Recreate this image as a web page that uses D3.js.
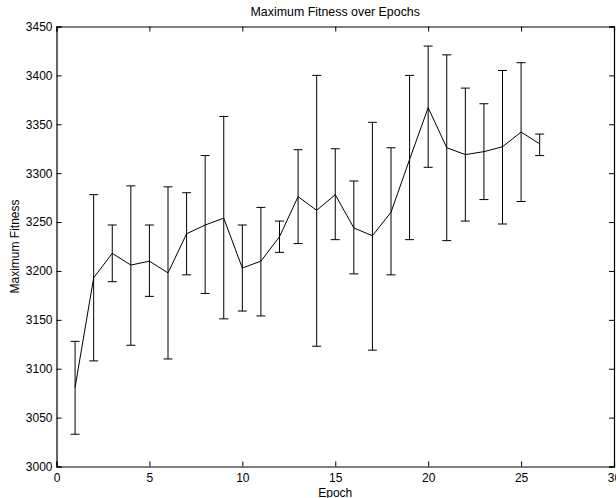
<!DOCTYPE html>
<html>
<head>
<meta charset="utf-8">
<script src="https://cdn.jsdelivr.net/npm/d3@7"></script>
<style>
  html, body { margin: 0; padding: 0; background: #fff; }
  svg { display: block; }
  text { font-family: "Liberation Sans", Arial, Helvetica, sans-serif; fill: #000; }
</style>
</head>
<body>
<script>
// Data
const epochs = [1,2,3,4,5,6,7,8,9,10,11,12,13,14,15,16,17,18,19,20,21,22,23,24,25,26];
const meanFitness = [3081,3193,3218,3206,3210,3198,3238,3247,3254,3203,3210,3235,3276,3262,3278,3244,3236,3260,3314,3367,3326,3319,3322,3327,3342,3330];
const upperFitness = [3128,3278,3247,3287,3247,3286,3280,3318,3358,3247,3265,3251,3324,3400,3325,3292,3352,3326,3400,3430,3421,3387,3371,3405,3413,3340];
const lowerFitness = [3033,3108,3189,3124,3174,3110,3196,3177,3151,3159,3154,3219,3228,3123,3232,3197,3119,3196,3232,3306,3231,3251,3273,3248,3271,3318];
const xTicks = [0,5,10,15,20,25,30];
const yTicks = [3000,3050,3100,3150,3200,3250,3300,3350,3400,3450];

const W = 616, H = 498;
const m = {left: 56.5, right: 2, top: 26.5, bottom: 31.5};
const pw = 614 - m.left, ph = 466.5 - m.top;

const svg = d3.select("body").append("svg").attr("width", W).attr("height", H);

const x = d3.scaleLinear().domain([0, 30]).range([m.left, m.left + pw]);
const y = d3.scaleLinear().domain([3000, 3450]).range([m.top + ph, m.top]);

const fs = 12;
// Axes (ticks inward)
const gB = svg.append("g").attr("transform", `translate(0,${m.top + ph})`)
  .call(d3.axisBottom(x).tickValues(xTicks).tickSize(-5).tickPadding(6.5).tickFormat(d3.format("d")));
const gT = svg.append("g").attr("transform", `translate(0,${m.top})`)
  .call(d3.axisTop(x).tickValues(xTicks).tickSize(-5).tickFormat(""));
const gL = svg.append("g").attr("transform", `translate(${m.left},0)`)
  .call(d3.axisLeft(y).tickValues(yTicks).tickSize(-5).tickPadding(4).tickFormat(d3.format("d")));
const gR = svg.append("g").attr("transform", `translate(${m.left + pw},0)`)
  .call(d3.axisRight(y).tickValues(yTicks).tickSize(-5).tickFormat(""));

[gB, gT, gL, gR].forEach(g => {
  g.select(".domain").attr("stroke", "#000").attr("stroke-width", 1.2);
  g.selectAll(".tick line").attr("stroke", "#000");
  g.selectAll("text").attr("font-size", fs).attr("font-family", "Liberation Sans, Arial, sans-serif").attr("fill", "#000");
});

// Error bars
const cap = 4.5;
const eb = svg.append("g").attr("stroke", "#000").attr("stroke-width", 1).attr("fill", "none");
epochs.forEach((e, i) => {
  const cx = x(e);
  eb.append("line").attr("x1", cx).attr("x2", cx).attr("y1", y(upperFitness[i])).attr("y2", y(lowerFitness[i]));
  eb.append("line").attr("x1", cx - cap).attr("x2", cx + cap).attr("y1", y(upperFitness[i])).attr("y2", y(upperFitness[i]));
  eb.append("line").attr("x1", cx - cap).attr("x2", cx + cap).attr("y1", y(lowerFitness[i])).attr("y2", y(lowerFitness[i]));
});

// Mean line
const line = d3.line().x((d, i) => x(epochs[i])).y(d => y(d));
svg.append("path").datum(meanFitness).attr("d", line)
  .attr("fill", "none").attr("stroke", "#000").attr("stroke-width", 1);

// Title and labels
svg.append("text").attr("x", x(15)).attr("y", 16).attr("text-anchor", "middle")
  .attr("font-size", 12.4).text("Maximum Fitness over Epochs");
svg.append("text").attr("x", x(15)).attr("y", 496.5).attr("text-anchor", "middle")
  .attr("font-size", fs).text("Epoch");
svg.append("text").attr("transform", `translate(19,${y(3225)}) rotate(-90)`).attr("text-anchor", "middle")
  .attr("font-size", fs).text("Maximum Fitness");
</script>
</body>
</html>
